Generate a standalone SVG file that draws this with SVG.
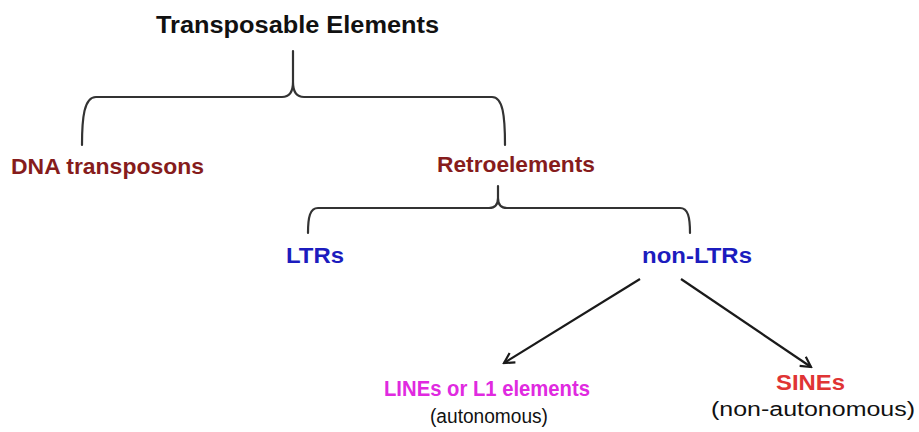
<svg xmlns="http://www.w3.org/2000/svg" width="919" height="432" viewBox="0 0 919 432">
  <style>
    .lbl { font-family: "Liberation Sans", Arial, sans-serif; font-weight: bold; font-size: 22px; }
    .sub { font-family: "Liberation Sans", Arial, sans-serif; font-size: 20px; fill: #111; }
    .title { fill: #111; font-size: 23px; }
    .dred { fill: #861c1c; }
    .blue { fill: #1c1cbe; }
    .mag { fill: #e02ae0; }
    .red { fill: #e03434; }
    .brace { fill: none; stroke: #333; stroke-width: 2.2; stroke-linecap: round; }
    .arrow { fill: none; stroke: #1a1a1a; stroke-width: 2.2; marker-end: url(#head); }
  </style>
  <defs>
    <marker id="head" markerUnits="userSpaceOnUse" markerWidth="16" markerHeight="16" viewBox="0 0 16 16" refX="14" refY="8" orient="auto">
      <path d="M4,2.5 L14,8 L4,13.5" fill="none" stroke="#1a1a1a" stroke-width="2.2" stroke-linejoin="miter"/>
    </marker>
  </defs>
  <rect width="919" height="432" fill="#ffffff"/>

  <g id="connectors">
    <path class="brace" d="M82,145 C82,118 84,97 96,97 H282 C289,97 293,92 293,82 V51 M293,82 C293,92 297,97 304,97 H492 C503,97 505,116 505,145"/>
    <path class="brace" d="M308,233 C308,217 310,208 318,208 H489 C495,208 498,204 498,198 V186 M498,198 C498,204 501,208 507,208 H680 C688,208 690,217 690,233"/>
    <line class="arrow" x1="640" y1="279" x2="504" y2="363"/>
    <line class="arrow" x1="681" y1="279" x2="811" y2="367"/>
  </g>

  <g id="transposable-elements">
    <text class="lbl title" x="156" y="33" textLength="283" lengthAdjust="spacingAndGlyphs">Transposable Elements</text>
  </g>
  <g id="dna-transposons">
    <text class="lbl dred" x="11" y="174" textLength="193" lengthAdjust="spacingAndGlyphs">DNA transposons</text>
  </g>
  <g id="retroelements">
    <text class="lbl dred" x="437" y="172" textLength="158" lengthAdjust="spacingAndGlyphs">Retroelements</text>
  </g>
  <g id="ltrs">
    <text class="lbl blue" x="286" y="263" textLength="58" lengthAdjust="spacingAndGlyphs">LTRs</text>
  </g>
  <g id="non-ltrs">
    <text class="lbl blue" x="642" y="263" textLength="110" lengthAdjust="spacingAndGlyphs">non-LTRs</text>
  </g>
  <g id="lines">
    <text class="lbl mag" x="384" y="396" textLength="206" lengthAdjust="spacingAndGlyphs">LINEs or L1 elements</text>
    <text class="sub" x="430" y="423" textLength="118" lengthAdjust="spacingAndGlyphs">(autonomous)</text>
  </g>
  <g id="sines">
    <text class="lbl red" x="776" y="390" textLength="69" lengthAdjust="spacingAndGlyphs">SINEs</text>
    <text class="sub" x="711" y="416" textLength="204" lengthAdjust="spacingAndGlyphs">(non-autonomous)</text>
  </g>
</svg>
